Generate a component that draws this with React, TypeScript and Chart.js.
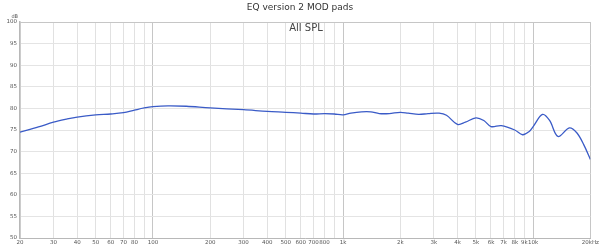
import React, { useEffect, useRef } from "react";
import { Chart, registerables } from "chart.js";

Chart.register(...registerables);

const frequencies = [20, 25, 30, 35, 40, 50, 60, 70, 80, 90, 100, 120, 150, 200, 300, 400, 500, 600, 700, 800, 900, 1000, 1100, 1250, 1400, 1550, 1750, 2000, 2200, 2500, 2800, 3200, 3500, 4000, 4400, 5000, 5500, 6000, 6800, 8000, 8800, 9500, 10000, 11200, 12200, 13500, 15500, 17000, 18500, 20000];
const splValues = [74.5, 75.7, 76.8, 77.5, 78.0, 78.5, 78.7, 79.0, 79.6, 80.1, 80.4, 80.6, 80.5, 80.1, 79.7, 79.3, 79.1, 78.9, 78.7, 78.8, 78.7, 78.5, 78.9, 79.2, 79.2, 78.8, 78.8, 79.1, 78.9, 78.6, 78.8, 78.9, 78.4, 76.3, 76.8, 77.8, 77.2, 75.8, 76.0, 75.0, 73.9, 74.6, 75.8, 78.6, 77.2, 73.5, 75.5, 74.3, 71.5, 68.2];

const xTickValues = [20, 30, 40, 50, 60, 70, 80, 90, 100, 200, 300, 400, 500, 600, 700, 800, 900, 1000, 2000, 3000, 4000, 5000, 6000, 7000, 8000, 9000, 10000, 20000];
const xTickLabels = ["20", "30", "40", "50", "60", "70", "80", "", "100", "200", "300", "400", "500", "600", "700", "800", "", "1k", "2k", "3k", "4k", "5k", "6k", "7k", "8k", "9k", "10k", "20kHz"];
const yTickValues = [50, 55, 60, 65, 70, 75, 80, 85, 90, 95, 100];

const chartTitle = "EQ version 2 MOD pads";
const innerLabel = "All SPL";
const yUnit = "dB";

export default function App() {
  const ref = useRef<HTMLCanvasElement | null>(null);

  useEffect(() => {
    document.body.style.margin = "0";
    const canvas = ref.current;
    if (!canvas) return;

    const textPlugin = {
      id: "texts",
      afterDraw(chart: any) {
        const ctx = chart.ctx;
        const area = chart.chartArea;
        ctx.save();
        ctx.fillStyle = "#333";
        ctx.textAlign = "center";
        ctx.textBaseline = "middle";
        ctx.font = "9px 'DejaVu Sans'";
        ctx.fillText(chartTitle, 300, 8);
        ctx.fillStyle = "#444";
        ctx.font = "10px 'DejaVu Sans'";
        ctx.fillText(innerLabel, 306, area.top + 6);
        ctx.font = "5px 'DejaVu Sans'";
        ctx.fillStyle = "#555";
        ctx.textAlign = "right";
        ctx.fillText(yUnit, 18, area.top - 5);
        ctx.restore();
      },
    };

    const chart = new Chart(canvas, {
      type: "line",
      data: {
        datasets: [
          {
            data: frequencies.map((f, i) => ({ x: f, y: splValues[i] })),
            borderColor: "#3a5bc7",
            borderWidth: 1.3,
            pointRadius: 0,
            tension: 0.35,
            fill: false,
          },
        ],
      },
      options: {
        animation: false,
        responsive: false,
        maintainAspectRatio: false,
        layout: { padding: { left: 0, right: 9, top: 22, bottom: 0 } },
        plugins: { legend: { display: false }, title: { display: false }, tooltip: { enabled: false } },
        scales: {
          x: {
            type: "logarithmic",
            min: 20,
            max: 20000,
            afterBuildTicks: (scale: any) => {
              scale.ticks = xTickValues.map((v) => ({ value: v }));
            },
            afterFit: (scale: any) => {
              scale.height = 9;
            },
            ticks: {
              autoSkip: false,
              maxRotation: 0,
              padding: 1,
              color: "#555",
              font: { size: 5.5, family: "'DejaVu Sans'" },
              callback: (value: any, index: number) => xTickLabels[index],
            },
            grid: {
              drawTicks: false,
              color: (ctx: any) => {
                const v = ctx.tick && ctx.tick.value;
                if (v === 100 || v === 1000 || v === 10000 || v === 20000) return "#c6c6c6";
                return "#e1e1e1";
              },
              lineWidth: 1,
            },
            border: { color: "#b8b8b8", width: 1 },
          },
          y: {
            min: 50,
            max: 100,
            afterBuildTicks: (scale: any) => {
              scale.ticks = yTickValues.map((v) => ({ value: v }));
            },
            afterFit: (scale: any) => {
              scale.width = 20;
            },
            ticks: {
              padding: 3,
              color: "#555",
              font: { size: 5.5, family: "'DejaVu Sans'" },
            },
            grid: {
              drawTicks: false,
              color: (ctx: any) => (ctx.tick && ctx.tick.value === 100 ? "#c6c6c6" : "#e4e4e4"),
              lineWidth: 1,
            },
            border: { color: "#b8b8b8", width: 1.5 },
          },
        },
      },
      plugins: [textPlugin],
    } as any);

    return () => chart.destroy();
  }, []);

  return <canvas ref={ref} width={600} height={247} style={{ display: "block", width: 600, height: 247 }} />;
}
